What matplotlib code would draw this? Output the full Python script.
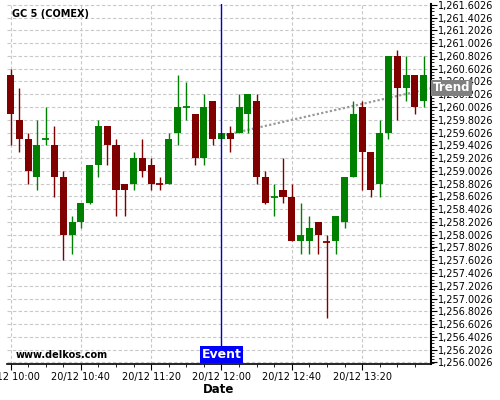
import numpy as np
import pandas as pd
import matplotlib
matplotlib.use("Agg")
import matplotlib.pyplot as plt
import matplotlib.dates as mdates
import matplotlib.ticker as mticker
import matplotlib.transforms as mtransforms

# 5 minute candles, 20/12 10:00 .. 13:55
times = pd.date_range("2019-12-20 10:00", periods=48, freq="5min")

opens = [1260.5, 1259.8, 1259.5, 1258.9, 1259.5, 1259.4, 1258.9, 1258.0, 1258.2, 1258.5,
         1259.1, 1259.7, 1259.4, 1258.8, 1258.8, 1259.2, 1259.1, 1258.8, 1258.8, 1259.6,
         1260.0, 1259.9, 1259.2, 1260.1, 1259.5, 1259.6, 1259.6, 1259.9, 1260.1, 1258.9,
         1258.6, 1258.7, 1258.6, 1257.9, 1257.9, 1258.2, 1257.9, 1257.9, 1258.2, 1258.9,
         1260.0, 1259.3, 1258.8, 1259.6, 1260.8, 1260.3, 1260.5, 1260.1]
highs = [1260.6, 1260.3, 1259.6, 1259.8, 1260.0, 1259.7, 1259.0, 1258.3, 1258.5, 1259.1,
         1259.8, 1259.7, 1259.5, 1258.8, 1259.3, 1259.5, 1259.2, 1258.9, 1259.6, 1260.5,
         1260.4, 1259.9, 1260.2, 1260.1, 1259.6, 1259.7, 1260.2, 1260.2, 1260.2, 1259.0,
         1258.8, 1259.2, 1258.8, 1258.5, 1258.3, 1258.2, 1258.0, 1258.3, 1258.9, 1260.1,
         1260.1, 1259.3, 1259.8, 1260.8, 1260.9, 1260.8, 1260.5, 1260.8]
lows = [1259.4, 1259.3, 1258.8, 1258.7, 1259.4, 1258.6, 1257.6, 1257.7, 1258.1, 1258.48,
        1258.9, 1259.1, 1258.3, 1258.3, 1258.7, 1258.9, 1258.7, 1258.7, 1258.8, 1259.4,
        1259.8, 1259.1, 1259.1, 1259.4, 1259.5, 1259.3, 1259.6, 1259.6, 1258.8, 1258.48,
        1258.3, 1258.5, 1257.9, 1257.7, 1257.7, 1257.7, 1256.7, 1257.7, 1258.1, 1258.9,
        1258.7, 1258.6, 1258.6, 1259.5, 1259.8, 1260.1, 1259.9, 1260.0]
closes = [1259.9, 1259.5, 1259.0, 1259.4, 1259.5, 1258.9, 1258.0, 1258.2, 1258.5, 1259.1,
          1259.7, 1259.4, 1258.7, 1258.7, 1259.2, 1259.0, 1258.8, 1258.79, 1259.5, 1260.0,
          1260.0, 1259.2, 1260.0, 1259.5, 1259.6, 1259.5, 1260.0, 1260.2, 1258.9, 1258.5,
          1258.6, 1258.6, 1257.9, 1258.0, 1258.1, 1258.0, 1257.89, 1258.3, 1258.9, 1259.9,
          1259.3, 1258.7, 1259.6, 1260.8, 1260.3, 1260.5, 1260.0, 1260.5]

event_time = pd.Timestamp("2019-12-20 12:00")
trend_times = [pd.Timestamp("2019-12-20 12:00"), pd.Timestamp("2019-12-20 14:00")]
trend_values = [1259.55, 1260.30]

y_ticks = np.arange(1256.0026, 1261.61, 0.2)

UP = "#008000"
DOWN = "#800000"

fig = plt.figure(figsize=(5, 4), dpi=100)
ax = fig.add_axes([0.014, 0.09125, 0.848, 0.89875])

x = mdates.date2num(times)
o = np.array(opens)
c = np.array(closes)
h = np.array(highs)
l = np.array(lows)
w = 4 / 1440.0
colors = [UP if cc >= oo else DOWN for oo, cc in zip(o, c)]

# trend line behind candles
ax.plot(mdates.date2num(trend_times), trend_values, color="#999999", lw=1.6,
        linestyle=(0, (1, 1)), zorder=2)

ax.vlines(x, l, h, colors=colors, lw=1, zorder=3)
doji = np.abs(c - o) < 0.02
body = ~doji
ax.bar(x[body], (c - o)[body], bottom=o[body], width=w,
       color=np.array(colors)[body], zorder=4, linewidth=0)
ax.hlines(c[doji], x[doji] - w / 2, x[doji] + w / 2,
          colors=np.array(colors)[doji], lw=1.3, zorder=4)

# event marker
ex = mdates.date2num(event_time)
ax.axvline(ex, color="#0000cc", lw=1, zorder=5)
blend = mtransforms.blended_transform_factory(ax.transData, ax.transAxes)
ax.text(ex, 0.025, "Event", transform=blend, ha="center", va="center",
        color="white", fontsize=9, fontweight="bold", zorder=6,
        bbox=dict(boxstyle="square,pad=0.15", fc="#0000ff", ec="none"))

# trend label
blend_y = mtransforms.blended_transform_factory(ax.transAxes, ax.transData)
ax.text(1.004, trend_values[-1], "Trend", transform=blend_y, ha="left",
        va="center", color="white", fontsize=8.5, fontweight="bold", zorder=6,
        bbox=dict(boxstyle="square,pad=0.15", fc="#808080", ec="none"),
        clip_on=False)

ax.text(0.012, 0.985, "GC 5 (COMEX)", transform=ax.transAxes, ha="left",
        va="top", fontsize=7, fontweight="bold")
ax.text(0.02, 0.025, "www.delkos.com", transform=ax.transAxes, ha="left",
        va="center", fontsize=7, fontweight="bold")

x0 = x[0]
ax.set_xlim(x0 - 2 / 1440.0, x0 + 239.2 / 1440.0)
ax.set_ylim(1255.985, 1261.615)

ax.set_xticks(x[::8])
ax.xaxis.set_major_formatter(mdates.DateFormatter("%d/%m %H:%M"))
ax.xaxis.set_minor_locator(mticker.FixedLocator(mdates.date2num(
    pd.date_range("2019-12-20 09:50", "2019-12-20 14:10", freq="10min"))))

ax.yaxis.tick_right()
ax.yaxis.set_major_locator(mticker.FixedLocator(y_ticks))
ax.yaxis.set_minor_locator(mticker.MultipleLocator(0.05))
ax.yaxis.set_major_formatter(mticker.FuncFormatter(lambda v, p: f"{v:,.4f}"))

ax.tick_params(axis="both", which="major", labelsize=7, length=4, width=0.8)
ax.tick_params(axis="both", which="minor", length=2, width=0.6)
ax.tick_params(axis="y", pad=1)
ax.tick_params(axis="x", pad=2)

ax.grid(True, which="major", color="#c8c8c8", linestyle=(0, (3, 2)), lw=0.8)
ax.set_axisbelow(True)

for side in ["left", "top"]:
    ax.spines[side].set_visible(False)
ax.spines["right"].set_linewidth(1.5)
ax.spines["bottom"].set_linewidth(1.2)

ax.set_xlabel("Date", fontsize=8.5, fontweight="bold", labelpad=1)

fig.savefig("out.png", dpi=100)
